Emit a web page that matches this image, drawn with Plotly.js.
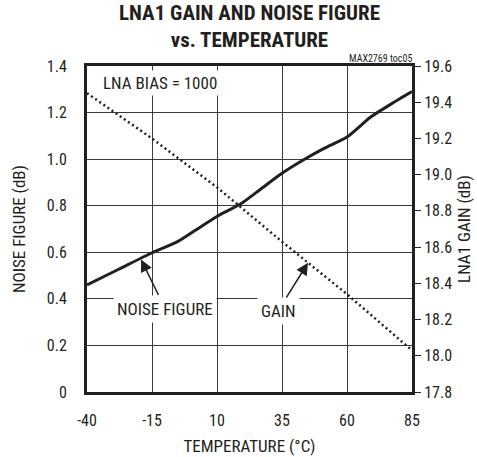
<!DOCTYPE html>
<html>
<head>
<meta charset="utf-8">
<script src="https://cdn.plot.ly/plotly-3.0.1.min.js"></script>
<style>html,body{margin:0;padding:0;background:#fff;}#chart{width:477px;height:457px;}</style>
</head>
<body>
<div id="chart"></div>
<script>
// Temperature (°C) and readings
const nfTemp = [-40, -28, -15, -5, 2, 10, 19, 27, 35, 43, 51, 60, 69, 77, 85];
const noiseFigure = [0.46, 0.526, 0.598, 0.647, 0.697, 0.754, 0.807, 0.873, 0.939, 0.995, 1.045, 1.095, 1.18, 1.237, 1.29];
const gainTemp = [-40, -15, 10, 35, 60, 85];
const gain = [19.45, 19.20, 18.93, 18.63, 18.34, 18.03];
const xTicks = [-40, -15, 10, 35, 60, 85];
const nfTicks = [0, 0.2, 0.4, 0.6, 0.8, 1.0, 1.2, 1.4];
const nfTickText = ['0', '0.2', '0.4', '0.6', '0.8', '1.0', '1.2', '1.4'];
const gainTicks = [17.8, 18.0, 18.2, 18.4, 18.6, 18.8, 19.0, 19.2, 19.4, 19.6];

const FONT = 'Roboto Condensed, DejaVu Sans Condensed, sans-serif';
const TXT = '#231f20';

const traces = [
  {x: nfTemp, y: noiseFigure, type: 'scatter', mode: 'lines', yaxis: 'y',
   line: {color: '#231f20', width: 3, shape: 'spline', smoothing: 0.6}, hoverinfo: 'skip'},
  {x: gainTemp, y: gain, type: 'scatter', mode: 'lines', yaxis: 'y2',
   line: {color: '#231f20', width: 2.5, dash: '2px,3px'}, hoverinfo: 'skip'}
];

const layout = {
  width: 477, height: 457,
  margin: {l: 87, r: 65, t: 66, b: 65},
  paper_bgcolor: '#fff', plot_bgcolor: '#fff',
  showlegend: false,
  font: {family: FONT, size: 16, color: TXT},
  title: {
    text: 'LNA1 GAIN AND NOISE FIGURE<br>vs. TEMPERATURE',
    font: {family: FONT, size: 21, color: TXT, weight: 'bold'},
    xref: 'paper', x: 0.5, xanchor: 'center',
    yref: 'container', y: 0.957, yanchor: 'top'
  },
  xaxis: {
    range: [-40, 85], tickvals: xTicks, ticktext: xTicks.map(String),
    showgrid: true, gridcolor: '#3a3a3a', gridwidth: 1,
    zeroline: false, showline: true, linecolor: '#231f20', linewidth: 3, mirror: true,
    ticks: '', ticklabelstandoff: 12,
    tickfont: {family: FONT, size: 16, color: TXT},
    title: {text: 'TEMPERATURE (°C)', font: {family: FONT, size: 17, color: TXT}, standoff: 11}
  },
  yaxis: {
    range: [0, 1.4], tickvals: nfTicks, ticktext: nfTickText,
    showgrid: true, gridcolor: '#3a3a3a', gridwidth: 1,
    zeroline: false, showline: true, linecolor: '#231f20', linewidth: 3, mirror: true,
    ticks: '', ticklabelstandoff: 14,
    tickfont: {family: FONT, size: 16, color: TXT},
    title: {text: 'NOISE FIGURE (dB)', font: {family: FONT, size: 17, color: TXT}, standoff: 17}
  },
  yaxis2: {
    overlaying: 'y', side: 'right',
    range: [17.8, 19.6], tickvals: gainTicks, tickformat: '.1f',
    showgrid: false, zeroline: false, showline: false,
    ticks: 'outside', ticklen: 8, tickwidth: 1, tickcolor: '#231f20',
    tickfont: {family: FONT, size: 16, color: TXT},
    title: {text: 'LNA1 GAIN (dB)', font: {family: FONT, size: 17, color: TXT}, standoff: 6}
  },
  annotations: [
    {text: 'LNA BIAS = 1000', xref: 'paper', yref: 'paper', x: 0.225, y: 0.948,
     xanchor: 'center', yanchor: 'middle',
     showarrow: false, bgcolor: '#fff', borderpad: 2,
     font: {family: FONT, size: 17, color: TXT}},
    {text: 'NOISE FIGURE', xref: 'x', yref: 'y', x: -19.2, y: 0.569,
     ax: 24, ay: 49, showarrow: true, arrowhead: 2, arrowsize: 1.6, arrowwidth: 1.5,
     arrowcolor: '#231f20', bgcolor: '#fff', borderpad: 3,
     font: {family: FONT, size: 17, color: TXT}},
    {text: 'GAIN', xref: 'x', yref: 'y2', x: 45, y: 18.513,
     ax: -30, ay: 48, showarrow: true, arrowhead: 2, arrowsize: 1.6, arrowwidth: 1.5,
     arrowcolor: '#231f20', bgcolor: '#fff', borderpad: 3,
     font: {family: FONT, size: 17, color: TXT}},
    {text: 'MAX2769 toc05', xref: 'paper', yref: 'paper', x: 1, y: 1,
     xanchor: 'right', yanchor: 'bottom', yshift: 0, xshift: 2, showarrow: false,
     font: {family: FONT, size: 10, color: TXT}}
  ]
};

Plotly.newPlot('chart', traces, layout, {staticPlot: true, displayModeBar: false});
</script>
</body>
</html>
